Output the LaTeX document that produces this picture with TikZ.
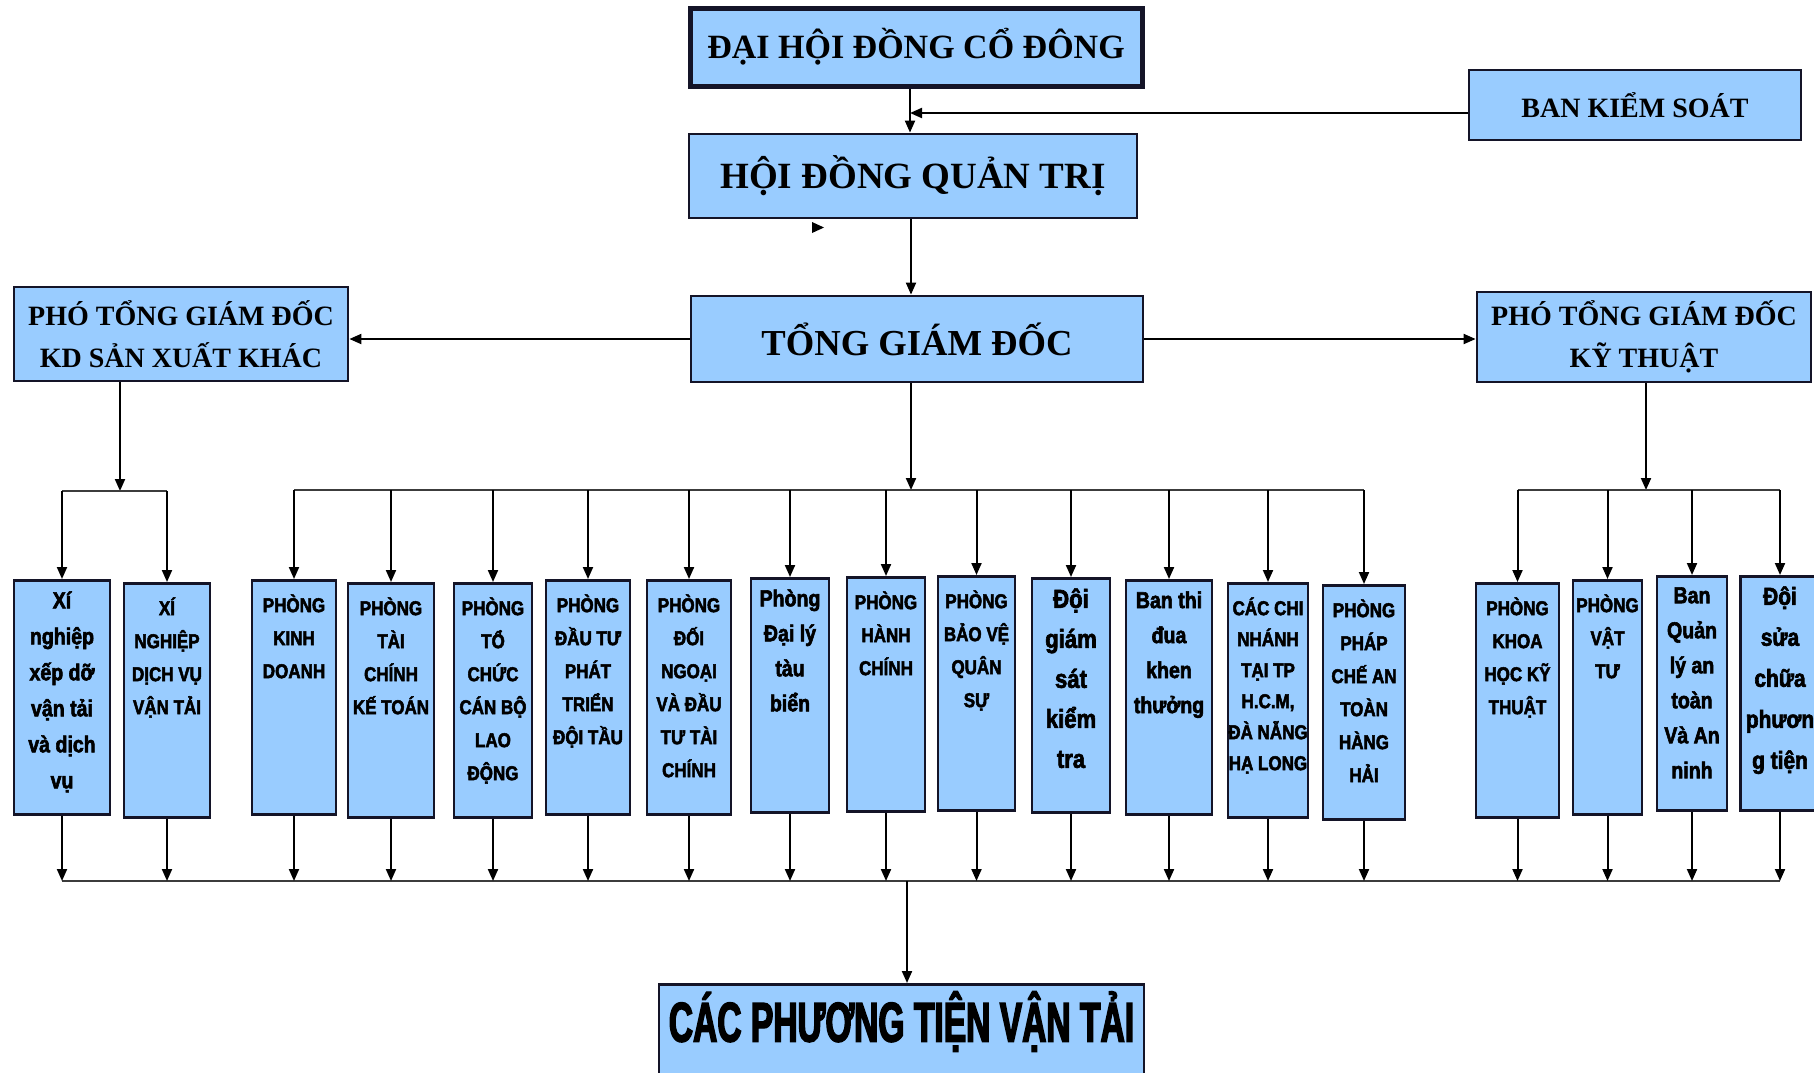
\documentclass[tikz,border=0pt]{standalone}
\usepackage{fontspec}
\setmainfont{Liberation Serif}
\newfontfamily\deptfont[FakeStretch=0.85,BoldFeatures={FakeBold=2.5}]{Liberation Sans}
\newfontfamily\bannerfont[FakeStretch=0.6,BoldFeatures={FakeBold=2.5}]{Liberation Sans}
\usepackage{tikz}
\usetikzlibrary{arrows.meta}
\definecolor{boxfill}{HTML}{99CCFF}
\definecolor{boxline}{HTML}{141428}
\definecolor{busline}{HTML}{3C3C3C}

\begin{document}
\begin{tikzpicture}[
  x=0.5pt, y=-0.5pt,
  head/.style={
    draw=boxline, fill=boxfill, line width=1.4pt, align=center,
    inner sep=2pt, font=\bfseries\fontsize{17}{21}\selectfont,
  },
  vp/.style={head, font=\bfseries\fontsize{14}{21}\selectfont},
  dept/.style={
    draw=boxline, fill=boxfill, line width=1.3pt, anchor=north,
    minimum width=#1, minimum height=117pt, inner sep=0pt,
  },
  lbl/.style={anchor=north, align=center, inner sep=0pt},
  dtext/.style={lbl, yshift=-7.5pt, font=\deptfont\bfseries\fontsize{10}{16.5}\selectfont},
  ltext/.style={lbl, yshift=-6pt, font=\deptfont\bfseries\fontsize{11.5}{17.5}\selectfont},
  btext/.style={lbl, yshift=-5.5pt, font=\deptfont\bfseries\fontsize{13}{20}\selectfont},
  arr/.style={-{Triangle[length=6pt,width=5pt]}, line width=1pt, black},
  bus/.style={line width=1.4pt, busline},
]
  \useasboundingbox (0,0) rectangle (1814,1072);
  \fill[white] (0,0) rectangle (1814,1072);
  \clip (0,0) rectangle (1814,1072);

  % Board and management
  \node[head, line width=2.5pt, minimum width=226pt, minimum height=39pt] (dhdcd) at (916,47) {ĐẠI HỘI ĐỒNG CỔ ĐÔNG};
  \node[head, minimum width=166pt, minimum height=35pt, font=\bfseries\fontsize{14}{17}\selectfont] (bks) at (1635,105) {BAN KIỂM SOÁT};
  \node[head, minimum width=224pt, minimum height=42pt, font=\bfseries\fontsize{18.5}{21}\selectfont] (hdqt) at (913,176) {HỘI ĐỒNG QUẢN TRỊ};
  \node[head, minimum width=226pt, minimum height=43pt, font=\bfseries\fontsize{18.3}{21}\selectfont] (tgd) at (917,339) {TỔNG GIÁM ĐỐC};
  \node[vp, minimum width=167pt, minimum height=47pt] (ptkd) at (181,334) {PHÓ TỔNG GIÁM ĐỐC\\KD SẢN XUẤT KHÁC};
  \node[vp, minimum width=167pt, minimum height=45pt] (ptkt) at (1644,337) {PHÓ TỔNG GIÁM ĐỐC\\KỸ THUẬT};

  % Units
  \node[dept=48pt, label={[ltext, font=\deptfont\bfseries\fontsize{11.5}{18}\selectfont]north:{Xí\\nghiệp\\xếp dỡ\\vận tải\\và dịch\\vụ}}] (xn1) at (62,579) {};
  \node[dept=43pt, label={[dtext]north:{XÍ\\NGHIỆP\\DỊCH VỤ\\VẬN TẢI}}] (xn2) at (167,582) {};
  \node[dept=42pt, label={[dtext]north:{PHÒNG\\KINH\\DOANH}}] (kd) at (294,579) {};
  \node[dept=43pt, label={[dtext]north:{PHÒNG\\TÀI\\CHÍNH\\KẾ TOÁN}}] (tckt) at (391,582) {};
  \node[dept=39pt, label={[dtext]north:{PHÒNG\\TỔ\\CHỨC\\CÁN BỘ\\LAO\\ĐỘNG}}] (tccb) at (493,582) {};
  \node[dept=42pt, label={[dtext]north:{PHÒNG\\ĐẦU TƯ\\PHÁT\\TRIỂN\\ĐỘI TẦU}}] (dtpt) at (588,579) {};
  \node[dept=42pt, label={[dtext]north:{PHÒNG\\ĐỐI\\NGOẠI\\VÀ ĐẦU\\TƯ TÀI\\CHÍNH}}] (dnv) at (689,579) {};
  \node[dept=39pt, label={[ltext]north:{Phòng\\Đại lý\\tàu\\biển}}] (dlt) at (790,577) {};
  \node[dept=39pt, label={[dtext]north:{PHÒNG\\HÀNH\\CHÍNH}}] (hc) at (886,576) {};
  \node[dept=38.5pt, label={[dtext]north:{PHÒNG\\BẢO VỆ\\QUÂN\\SỰ}}] (bv) at (976.5,575) {};
  \node[dept=39pt, label={[btext]north:{Đội\\giám\\sát\\kiểm\\tra}}] (gs) at (1071,577) {};
  \node[dept=43pt, label={[ltext]north:{Ban thi\\đua\\khen\\thưởng}}] (td) at (1169,579) {};
  \node[dept=40pt, label={[dtext, font=\deptfont\bfseries\fontsize{10}{15.5}\selectfont]north:{CÁC CHI\\NHÁNH\\TẠI TP\\H.C.M,\\ĐÀ NẴNG\\HẠ LONG}}] (cn) at (1268,582) {};
  \node[dept=41pt, label={[dtext]north:{PHÒNG\\PHÁP\\CHẾ AN\\TOÀN\\HÀNG\\HẢI}}] (pc) at (1364,584) {};
  \node[dept=41.5pt, label={[dtext]north:{PHÒNG\\KHOA\\HỌC KỸ\\THUẬT}}] (kh) at (1517.5,582) {};
  \node[dept=34.5pt, label={[dtext]north:{PHÒNG\\VẬT\\TƯ}}] (vt) at (1607.5,579) {};
  \node[dept=35pt, label={[ltext]north:{Ban\\Quản\\lý an\\toàn\\Và An\\ninh}}] (bql) at (1692,575) {};
  \node[dept=39.5pt, label={[btext, font=\deptfont\bfseries\fontsize{12.3}{20.5}\selectfont]north:{Đội\\sửa\\chữa\\phươn\\g tiện}}] (ds) at (1780,575) {};

  % Fleet
  \node[dept=242.5pt, minimum height=70pt, label={[lbl, yshift=-4pt, font=\bannerfont\bfseries\fontsize{28}{30}\selectfont]north:{CÁC PHƯƠNG TIỆN VẬN TẢI}}] (ptvt) at (901.5,983) {};

  % Junctions
  \coordinate (ax) at (910,113);
  \coordinate (lb) at (120,491);
  \coordinate (cb) at (911,490);
  \coordinate (rb) at (1646,490);
  \coordinate (bb) at (907,881);

  % Top links
  \draw[arr] (dhdcd.south -| ax) -- (hdqt.north -| ax);
  \draw[arr] (bks.west |- ax) -- (ax);
  \draw[arr] (hdqt.south -| cb) -- (tgd.north -| cb);
  \draw[arr] (tgd.west) -- (tgd.west -| ptkd.east);
  \draw[arr] (tgd.east) -- (tgd.east -| ptkt.west);
  \fill (812,222) -- (824,227.5) -- (812,233) -- cycle;

  % Down to the units
  \draw[arr] (ptkd.south -| lb) -- (lb);
  \draw[arr] (tgd.south -| cb) -- (cb);
  \draw[arr] (ptkt.south -| rb) -- (rb);
  \draw[bus] (xn1.north |- lb) -- (xn2.north |- lb);
  \draw[bus] (kd.north |- cb) -- (pc.north |- cb);
  \draw[bus] (kh.north |- rb) -- (ds.north |- rb);
  \foreach \u in {xn1,xn2} \draw[arr] (\u.north |- lb) -- (\u.north);
  \foreach \u in {kd,tckt,tccb,dtpt,dnv,dlt,hc,bv,gs,td,cn,pc} \draw[arr] (\u.north |- cb) -- (\u.north);
  \foreach \u in {kh,vt,bql,ds} \draw[arr] (\u.north |- rb) -- (\u.north);

  % Into the fleet
  \draw[bus] (xn1.south |- bb) -- (ds.south |- bb);
  \foreach \u in {xn1,xn2,kd,tckt,tccb,dtpt,dnv,dlt,hc,bv,gs,td,cn,pc,kh,vt,bql,ds}
    \draw[arr] (\u.south) -- (\u.south |- bb);
  \draw[arr] (bb) -- (bb |- ptvt.north);
\end{tikzpicture}
\end{document}
